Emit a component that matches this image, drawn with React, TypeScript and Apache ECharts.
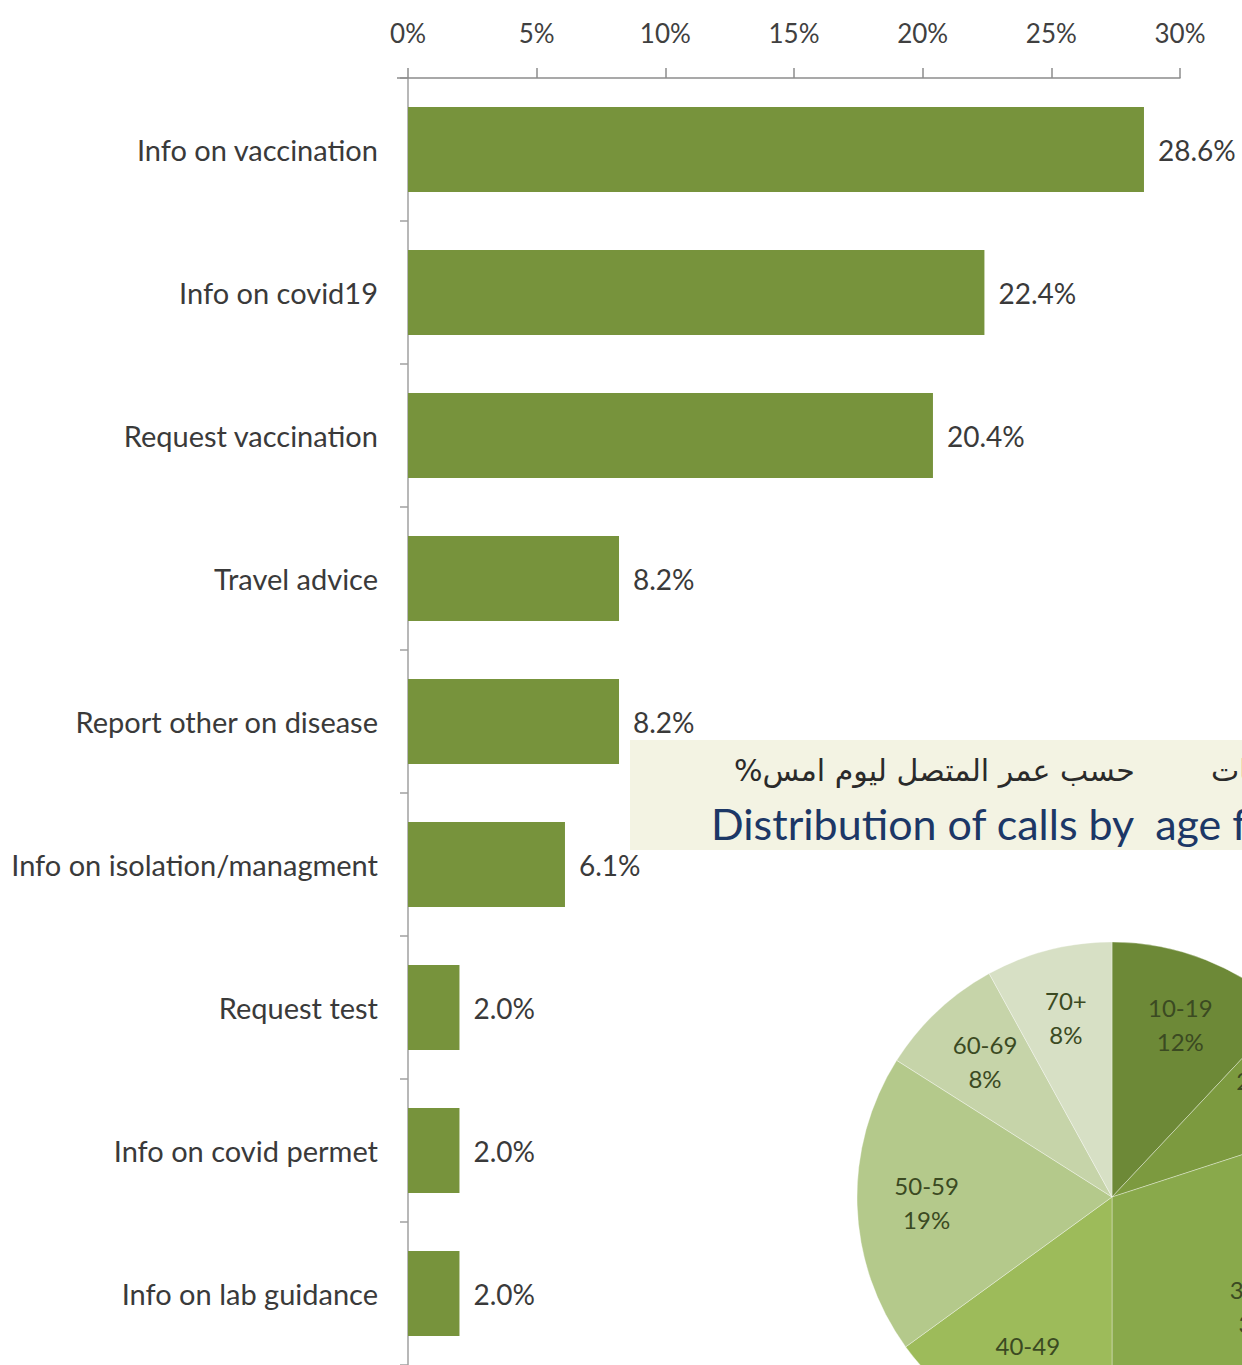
import React, { useEffect, useRef } from "react";
import * as echarts from "echarts";

const categories = [
  "Info on vaccination",
  "Info on covid19",
  "Request vaccination",
  "Travel advice",
  "Report other on disease",
  "Info on isolation/managment",
  "Request test",
  "Info on covid permet",
  "Info on lab guidance",
];
const shares = [28.6, 22.4, 20.4, 8.2, 8.2, 6.1, 2.0, 2.0, 2.0];
const xTickValues = [0, 5, 10, 15, 20, 25, 30];

const ageGroups = ["10-19", "20-29", "30-39", "40-49", "50-59", "60-69", "70+"];
const ageShares = [12, 8, 30, 15, 19, 8, 8];
const agePalette = ["#6d8937", "#7c9a3f", "#89a94b", "#9dbb5a", "#b4c98b", "#c6d4a9", "#d7e0c5"];

const titleArabic = "توزيع المكالمات        حسب عمر المتصل ليوم امس%\u200F";
const titleEnglish = "Distribution of calls by  age for yesterday %";

const FONT = "Lato, 'Open Sans', sans-serif";

export default function App() {
  const ref = useRef<HTMLDivElement>(null);
  useEffect(() => {
    if (!ref.current) return;
    const chart = echarts.init(ref.current, undefined, { renderer: "svg" });
    const pieData = ageGroups.map((g, i) => ({ name: g, value: ageShares[i] }));
    chart.setOption({
      animation: false,
      backgroundColor: "#ffffff",
      grid: { left: 408, top: 78, width: 772, height: 1289 },
      xAxis: {
        type: "value",
        position: "top",
        min: xTickValues[0],
        max: xTickValues[xTickValues.length - 1],
        interval: 5,
        splitLine: { show: false },
        axisLine: { show: true, lineStyle: { color: "#8c8c8c", width: 1.5 } },
        axisTick: { show: true, length: 10, lineStyle: { color: "#8c8c8c", width: 1.5 } },
        axisLabel: {
          formatter: "{value}%",
          margin: 32,
          fontFamily: FONT,
          fontSize: 26,
          color: "#404040",
        },
      },
      yAxis: {
        type: "category",
        inverse: true,
        data: categories,
        axisLine: { show: true, lineStyle: { color: "#a0a0a0", width: 1.5 } },
        axisTick: { show: true, length: 8, lineStyle: { color: "#a0a0a0", width: 1.5 } },
        axisLabel: {
          margin: 30,
          fontFamily: FONT,
          fontSize: 29,
          color: "#3a3a3a",
        },
      },
      series: [
        {
          type: "bar",
          data: shares,
          barWidth: 85,
          itemStyle: { color: "#77933c" },
          label: {
            show: true,
            position: "right",
            distance: 14,
            formatter: (p: any) => Number(p.value).toFixed(1) + "%",
            fontFamily: FONT,
            fontSize: 28,
            color: "#3a3a3a",
          },
        },
        {
          type: "pie",
          center: [1112, 1197],
          radius: 255,
          startAngle: 90,
          clockwise: true,
          silent: true,
          z: 3,
          data: pieData,
          color: agePalette,
          itemStyle: { borderColor: "rgba(255,255,255,0.35)", borderWidth: 1 },
          label: { show: false },
          labelLine: { show: false },
        },
        {
          type: "pie",
          center: [1112, 1197],
          radius: [115, 250],
          startAngle: 90,
          clockwise: true,
          silent: true,
          z: 4,
          data: pieData,
          itemStyle: { color: "rgba(0,0,0,0)" },
          label: {
            show: true,
            position: "inside",
            formatter: "{b}\n{c}%",
            fontFamily: FONT,
            fontSize: 24,
            lineHeight: 34,
            color: "#3b4a22",
          },
          labelLine: { show: false },
        },
      ],
      graphic: [
        {
          type: "line",
          z: 1,
          shape: { x1: 397, y1: 78, x2: 408, y2: 78 },
          style: { stroke: "#8c8c8c", lineWidth: 1.5 },
        },
        {
          type: "rect",
          z: 1,
          shape: { x: 630, y: 740, width: 620, height: 110 },
          style: { fill: "#f3f3e3" },
        },
        {
          type: "text",
          z: 2,
          x: 734,
          y: 770,
          style: {
            text: titleArabic,
            fontFamily: "'DejaVu Sans', 'Noto Sans', sans-serif",
            fontSize: 30,
            fill: "#2a2a2a",
            textAlign: "left",
            textVerticalAlign: "middle",
          },
        },
        {
          type: "text",
          z: 2,
          x: 711,
          y: 823,
          style: {
            text: titleEnglish,
            fontFamily: FONT,
            fontSize: 43,
            fill: "#1c3766",
            textAlign: "left",
            textVerticalAlign: "middle",
          },
        },
      ],
    });
    return () => chart.dispose();
  }, []);
  return (
    <div
      ref={ref}
      style={{ position: "absolute", left: 0, top: 0, width: 1242, height: 1365, overflow: "hidden" }}
    />
  );
}
